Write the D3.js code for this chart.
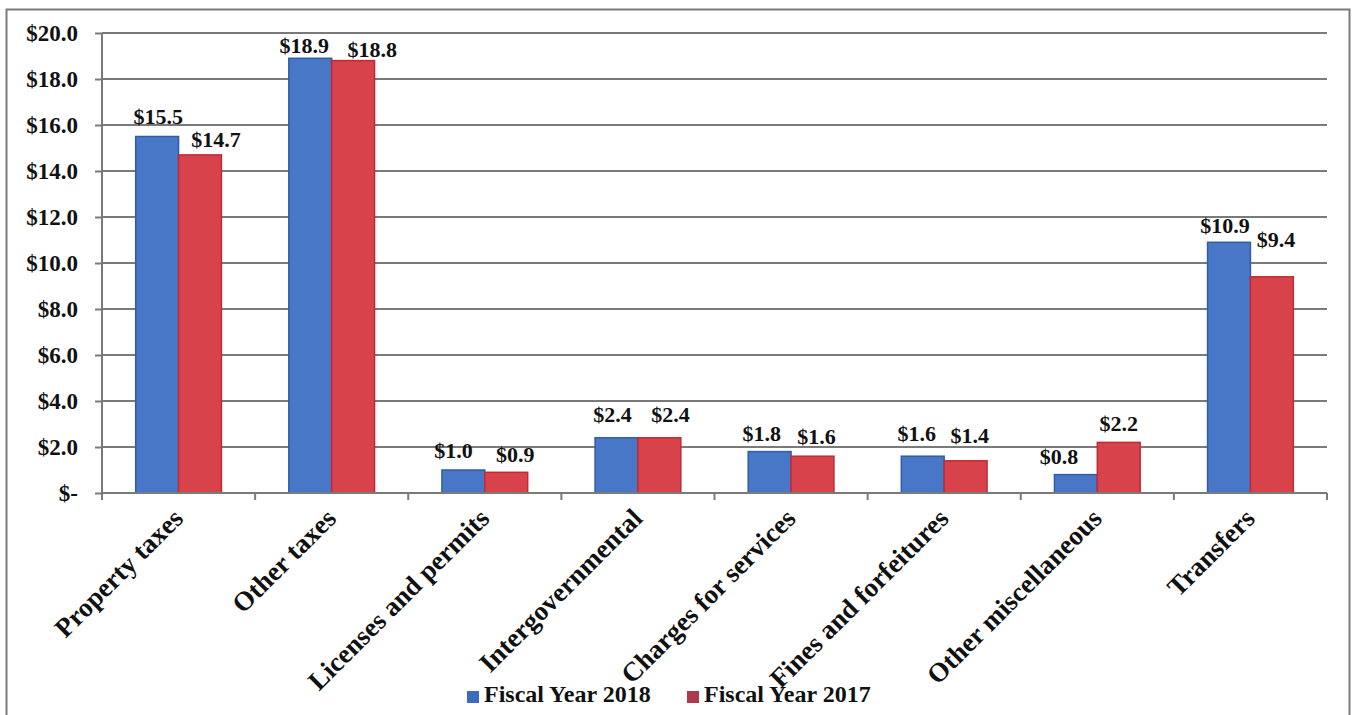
<!DOCTYPE html>
<html>
<head>
<meta charset="utf-8">
<script src="https://cdn.jsdelivr.net/npm/d3@7"></script>
<style>
  html, body { margin: 0; padding: 0; background: #fff; }
  svg { display: block; }
  text { font-family: "Liberation Serif", "Times New Roman", serif; font-weight: bold; fill: #111; }
</style>
</head>
<body>
<svg id="chart" width="1352" height="715"></svg>
<script>
// Revenue by source, in millions of dollars
const categories = [
  "Property taxes", "Other taxes", "Licenses and permits", "Intergovernmental",
  "Charges for services", "Fines and forfeitures", "Other miscellaneous", "Transfers"
];
const fy2018 = [15.5, 18.9, 1.0, 2.4, 1.8, 1.6, 0.8, 10.9];
const fy2017 = [14.7, 18.8, 0.9, 2.4, 1.6, 1.4, 2.2, 9.4];
const seriesNames = ["Fiscal Year 2018", "Fiscal Year 2017"];
const yTicks = [0, 2, 4, 6, 8, 10, 12, 14, 16, 18, 20];

const svg = d3.select("#chart");
const W = 1352, H = 715;
const margin = { left: 102, right: 25, top: 33, bottom: 222 };
const plotW = W - margin.left - margin.right;
const plotH = H - margin.top - margin.bottom;

const fills = ["#4777c6", "#d8434b"];
const strokes = ["#2f5ea6", "#c22a33"];
const legendColors = ["#3a6bbf", "#ad3a4c"];

// hand-placed nudges for the value labels, [dx, dy] per bar, so they sit clear of each other
const labelNudge = [
  [[1, -13], [16, -8]],
  [[-6, -5], [19, -4]],
  [[-10, -12], [9, -10]],
  [[-4, -16], [11, -16]],
  [[-8, -11], [4, -12]],
  [[-6, -15], [4, -18]],
  [[-17, -11], [0, -11]],
  [[-4, -9], [4, -30]]
];

// outer frame
svg.append("path")
  .attr("d", `M6.5,${H} V9.5 H1349.5 V${H}`)
  .attr("fill", "none").attr("stroke", "#7a7a7a").attr("stroke-width", 2);

const g = svg.append("g").attr("transform", `translate(${margin.left},${margin.top})`);

const x = d3.scaleBand().domain(categories).range([0, plotW]).paddingInner(0).paddingOuter(0);
const xs = d3.scaleBand().domain([0, 1]).range([x.bandwidth() * 0.22, x.bandwidth() * 0.78]);
const y = d3.scaleLinear().domain([0, 20]).range([plotH, 0]);

// horizontal gridlines
g.append("g").selectAll("line").data(yTicks.slice(1)).join("line")
  .attr("x1", 0).attr("x2", plotW)
  .attr("y1", d => y(d)).attr("y2", d => y(d))
  .attr("stroke", "#7a7a7a").attr("stroke-width", 2);

// y axis
const yAxis = d3.axisLeft(y).tickValues(yTicks).tickSize(7).tickPadding(17)
  .tickFormat(d => d === 0 ? "$-" : "$" + d.toFixed(1));
const ya = g.append("g").call(yAxis);
ya.select(".domain").attr("stroke", "#7a7a7a").attr("stroke-width", 2).attr("d", `M0,0V${plotH}`);
ya.selectAll(".tick line").attr("stroke", "#7a7a7a").attr("stroke-width", 2);
ya.selectAll(".tick text")
  .style("font-size", "23px")
  .style("font-family", "Liberation Serif, Times New Roman, serif")
  .style("font-weight", "bold")
  .attr("fill", "#111");

// bars
const groups = g.append("g").selectAll("g").data(categories).join("g")
  .attr("transform", d => `translate(${x(d)},0)`);

groups.each(function(cat, i) {
  const vals = [fy2018[i], fy2017[i]];
  const sel = d3.select(this);
  vals.forEach((v, s) => {
    sel.append("rect")
      .attr("x", xs(s)).attr("width", xs.bandwidth())
      .attr("y", y(v)).attr("height", plotH - y(v))
      .attr("fill", fills[s]).attr("stroke", strokes[s]).attr("stroke-width", 1.5);
  });
  vals.forEach((v, s) => {
    const [dx, dy] = labelNudge[i][s];
    sel.append("text")
      .attr("x", xs(s) + xs.bandwidth() / 2 + dx)
      .attr("y", y(v) + dy)
      .attr("text-anchor", "middle")
      .style("font-size", "22px")
      .text("$" + v.toFixed(1));
  });
});

// x axis baseline
g.append("line")
  .attr("x1", 0).attr("x2", plotW).attr("y1", plotH).attr("y2", plotH)
  .attr("stroke", "#7a7a7a").attr("stroke-width", 2);
// boundary ticks between categories
g.append("g").selectAll("line").data(d3.range(categories.length + 1)).join("line")
  .attr("x1", d => d * x.bandwidth()).attr("x2", d => d * x.bandwidth())
  .attr("y1", plotH).attr("y2", plotH + 7)
  .attr("stroke", "#7a7a7a").attr("stroke-width", 2);

// rotated category labels
g.append("g").selectAll("text").data(categories).join("text")
  .attr("transform", d => `translate(${x(d) + x.bandwidth() / 2 + 6},${plotH + 27}) rotate(-45)`)
  .attr("text-anchor", "end")
  .style("font-size", "27px")
  .text(d => d);

// legend
const legend = svg.append("g").attr("transform", "translate(467,702)");
const legX = [0, 220];
seriesNames.forEach((name, s) => {
  legend.append("rect").attr("x", legX[s]).attr("y", -11).attr("width", 12).attr("height", 12)
    .attr("fill", legendColors[s]);
  legend.append("text").attr("x", legX[s] + 17).attr("y", 0)
    .style("font-size", "24px").attr("fill", "#222").text(name);
});
</script>
</body>
</html>
